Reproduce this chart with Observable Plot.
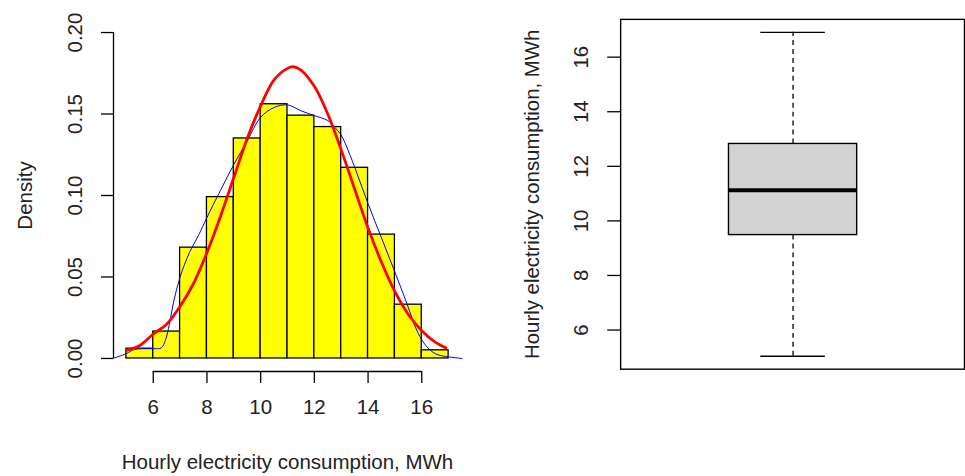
<!DOCTYPE html>
<html><head><meta charset="utf-8">
<script src="https://cdn.jsdelivr.net/npm/d3@7"></script>
<script src="https://cdn.jsdelivr.net/npm/@observablehq/plot@0.6"></script>
<style>
html,body{margin:0;padding:0;overflow:hidden;background:#fff;}
#wrap{position:relative;width:965px;height:476px;overflow:hidden;background:#fff;}
#left,#right{position:absolute;top:0;}
#left{left:0;} #right{left:482px;}
</style></head><body><div id="wrap"><div id="left"></div><div id="right"></div></div>
<script>
// ---- data ----
const binEdges = [5, 6, 7, 8, 9, 10, 11, 12, 13, 14, 15, 16, 17];
const binDensity = [0.006, 0.0165, 0.068, 0.099, 0.135, 0.156, 0.149, 0.142, 0.117, 0.076, 0.033, 0.005];

const kdeX = [4.5, 5.0, 5.3, 5.6, 6.0, 6.3, 6.45, 6.6, 6.75, 7.0, 7.35, 7.7, 8.0, 8.5, 9.0, 9.5, 10.0, 10.5, 11.0, 11.5, 12.0, 12.5, 12.75, 13.0, 13.25, 13.6, 14.0, 14.5, 15.0, 15.45, 15.85, 16.2, 16.5, 16.8, 17.5];
const kdeY = [0, 0.003, 0.0055, 0.006, 0.006, 0.0065, 0.011, 0.021, 0.034, 0.05, 0.065, 0.076, 0.0865, 0.103, 0.119, 0.1335, 0.148, 0.154, 0.1556, 0.152, 0.149, 0.146, 0.142, 0.137, 0.128, 0.113, 0.095, 0.074, 0.053, 0.0335, 0.016, 0.007, 0.003, 0.0015, 0];

const normX = [5.0, 5.5, 6.0, 6.5, 7.0, 7.5, 8.0, 8.5, 9.0, 9.5, 10.0, 10.5, 11.0, 11.2, 11.5, 12.0, 12.5, 13.0, 13.5, 14.0, 14.5, 15.0, 15.5, 16.0, 16.5, 16.9];
const normY = [0.005, 0.008, 0.015, 0.021, 0.032, 0.046, 0.065, 0.087, 0.111, 0.135, 0.155, 0.171, 0.178, 0.179, 0.177, 0.167, 0.150, 0.128, 0.104, 0.080, 0.059, 0.041, 0.027, 0.017, 0.010, 0.0065];

const densityTicks = [0, 0.05, 0.10, 0.15, 0.20];
const densityTickLabels = ["0.00", "0.05", "0.10", "0.15", "0.20"];
const xTicks = [6, 8, 10, 12, 14, 16];
const xTitle = "Hourly electricity consumption, MWh";
const yTitleLeft = "Density";
const yTitleRight = "Hourly electricity consumption, MWh";

const boxGroup = ["consumption"];
const boxFive = [5.04, 9.48, 11.12, 12.82, 16.91]; // lower whisker, Q1, median, Q3, upper whisker
const boxTicks = [6, 8, 10, 12, 14, 16];

// ---- build tables ----
const FONT = '"Liberation Sans", Arial, sans-serif';
const FS = 20.5;
const bins = binDensity.map((d, i) => ({x1: binEdges[i], x2: binEdges[i + 1], y: d}));
const kde = kdeX.map((x, i) => ({x, y: kdeY[i]}));
const norm = normX.map((x, i) => ({x, y: normY[i]}));

const xPad = (binEdges[binEdges.length - 1] - binEdges[0]) * 0.04;
const xDom = [binEdges[0] - xPad, binEdges[binEdges.length - 1] + xPad];
const yTop = densityTicks[densityTicks.length - 1];
const yDom = [-0.04 * yTop, yTop * 1.04];

const left = Plot.plot({
  width: 482, height: 476,
  marginLeft: 113, marginRight: 21, marginTop: 19, marginBottom: 105,
  style: {fontFamily: FONT, fontSize: FS + "px", background: "white", color: "black"},
  x: {domain: xDom, label: null},
  y: {domain: yDom, label: null},
  marks: [
    Plot.rectY(bins, {x1: "x1", x2: "x2", y: "y", fill: "#ffff00", stroke: "black", strokeWidth: 1.3}),
    Plot.line(kde, {x: "x", y: "y", stroke: "#0000ff", strokeWidth: 1, curve: "catmull-rom"}),
    Plot.line(norm, {x: "x", y: "y", stroke: "#ff0000", strokeWidth: 2.8, curve: "catmull-rom"}),
    Plot.axisX({ticks: xTicks, tickSize: 12, tickFormat: () => "", label: null, strokeWidth: 1.3}),
    Plot.ruleY([yDom[0]], {x1: xTicks[0], x2: xTicks[xTicks.length - 1], strokeWidth: 1.3}),
    Plot.text(xTicks, {x: d => d, text: d => String(d), frameAnchor: "bottom", dy: 42, fontSize: FS, textAnchor: "middle", fill: "#222"}),
    Plot.axisY({ticks: densityTicks, tickSize: 12, tickFormat: () => "", label: null, strokeWidth: 1.3}),
    Plot.ruleX([xDom[0]], {y1: densityTicks[0], y2: yTop, strokeWidth: 1.3}),
    Plot.text(densityTicks, {y: d => d, text: (d, i) => densityTickLabels[i], frameAnchor: "left", textAnchor: "middle", rotate: -90, dx: -38, fontSize: FS, fill: "#222"}),
    Plot.text([yTitleLeft], {frameAnchor: "left", textAnchor: "middle", rotate: -90, dx: -88, fontSize: FS, fill: "#222"}),
    Plot.text([xTitle], {frameAnchor: "bottom", textAnchor: "middle", dy: 97, fontSize: FS, fill: "#222"})
  ]
});
document.getElementById("left").append(left);

const yPadB = (boxFive[4] - boxFive[0]) * 0.04;
const boxRow = [{g: boxGroup[0], lo: boxFive[0], q1: boxFive[1], med: boxFive[2], q3: boxFive[3], hi: boxFive[4]}];

const right = Plot.plot({
  width: 486, height: 476,
  marginLeft: 139, marginRight: 1, marginTop: 19, marginBottom: 105,
  style: {fontFamily: FONT, fontSize: FS + "px", background: "white", color: "black"},
  x: {type: "band", domain: boxGroup, padding: 0.4569, axis: null, label: null},
  y: {domain: [boxFive[0] - yPadB, boxFive[4] + yPadB], label: null},
  marks: [
    Plot.frame({stroke: "black", strokeWidth: 1.4}),
    Plot.ruleX(boxRow, {x: "g", y1: "q3", y2: "hi", strokeDasharray: "5,4", strokeWidth: 1.3}),
    Plot.ruleX(boxRow, {x: "g", y1: "lo", y2: "q1", strokeDasharray: "5,4", strokeWidth: 1.3}),
    Plot.tickY(boxRow, {x: "g", y: "hi", insetLeft: 32, insetRight: 32, strokeWidth: 1.3}),
    Plot.tickY(boxRow, {x: "g", y: "lo", insetLeft: 32, insetRight: 32, strokeWidth: 1.3}),
    Plot.barY(boxRow, {x: "g", y1: "q1", y2: "q3", fill: "#d3d3d3", stroke: "black", strokeWidth: 1.4}),
    Plot.tickY(boxRow, {x: "g", y: "med", strokeWidth: 4}),
    Plot.axisY({ticks: boxTicks, tickSize: 13, tickFormat: () => "", label: null, strokeWidth: 1.3}),
    Plot.text(boxTicks, {y: d => d, text: d => String(d), frameAnchor: "left", textAnchor: "middle", rotate: -90, dx: -39, fontSize: FS, fill: "#222"}),
    Plot.text([yTitleRight], {frameAnchor: "left", textAnchor: "middle", rotate: -90, dx: -89, fontSize: FS, fill: "#222"})
  ]
});
document.getElementById("right").append(right);
</script>
</body></html>
